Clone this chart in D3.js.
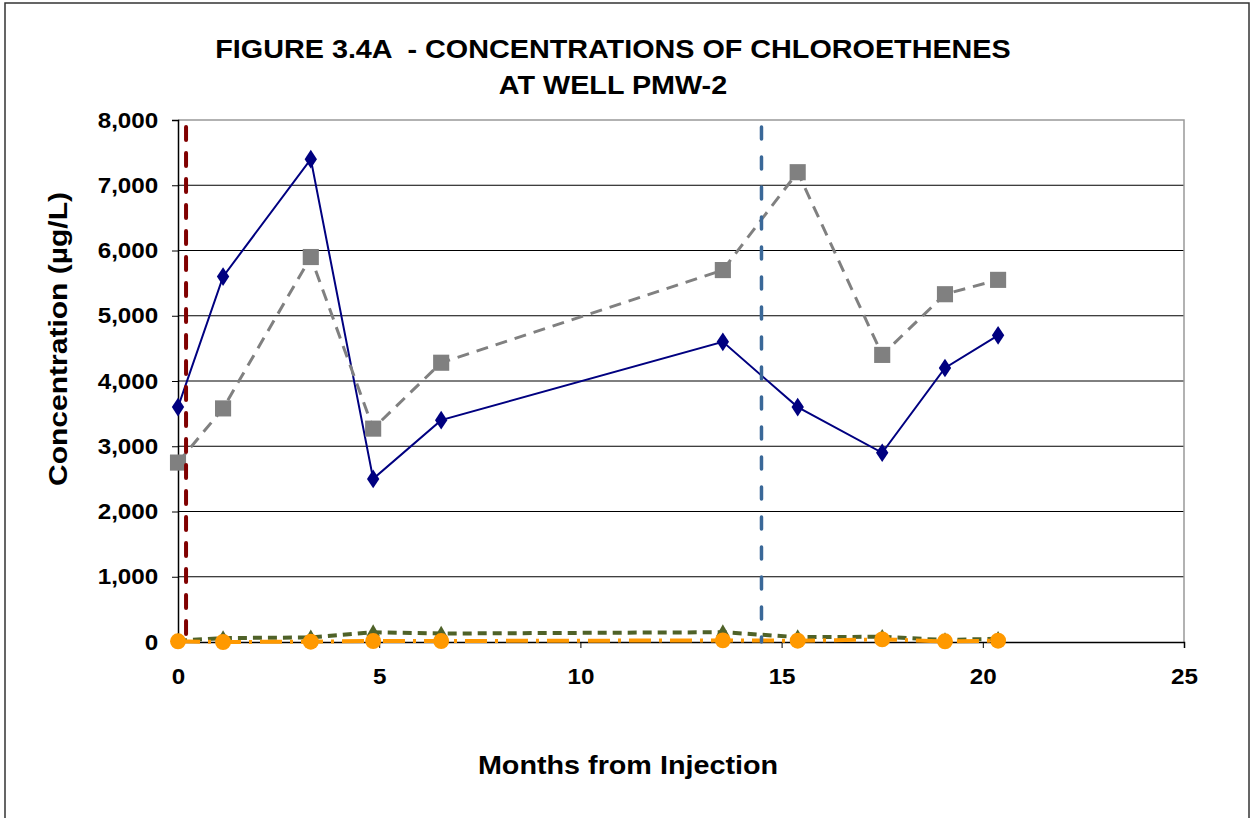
<!DOCTYPE html>
<html>
<head>
<meta charset="utf-8">
<script src="https://cdn.jsdelivr.net/npm/d3@7"></script>
<style>
  body { margin: 0; background: #fff; }
  text { font-family: "Liberation Sans", Arial, sans-serif; font-weight: bold; fill: #000; }
</style>
</head>
<body>
<svg id="chart" width="1252" height="818"></svg>
<script>
// sampling months
const months = [0, 1.12, 3.3, 4.85, 6.54, 13.54, 15.4, 17.5, 19.06, 20.38];

// series values (ug/L)
const pceValues = [3600, 5600, 7400, 2500, 3400, 4600, 3600, 2900, 4200, 4700];
const tceValues = [2750, 3580, 5900, 3270, 4280, 5700, 7200, 4400, 5330, 5550];
const dceValues = [20, 60, 70, 150, 130, 150, 75, 80, 30, 50];
const vcValues = [10, 0, 5, 15, 15, 25, 20, 40, 10, 20];

// injection events (months)
const injections = [0.2, 14.5];

const xTicks = [0, 5, 10, 15, 20, 25];
const yTicks = [0, 1000, 2000, 3000, 4000, 5000, 6000, 7000, 8000];

const svg = d3.select("#chart");

// outer frame
svg.append("rect")
  .attr("x", 5).attr("y", 3).attr("width", 1244).attr("height", 830)
  .attr("fill", "none").attr("stroke", "#333").attr("stroke-width", 1.5);

const x = d3.scaleLinear().domain([0, 25]).range([178, 1184]);
const y = d3.scaleLinear().domain([0, 8000]).range([642, 120]);

// gridlines
svg.append("g")
  .selectAll("line")
  .data(yTicks.filter(d => d > 0 && d < 8000))
  .enter().append("line")
  .attr("x1", x(0)).attr("x2", x(25))
  .attr("y1", d => y(d)).attr("y2", d => y(d))
  .attr("stroke", "#000").attr("stroke-width", 1);

// plot border (top/right gray)
svg.append("path")
  .attr("d", `M${x(0)},${y(8000)}H${x(25)}V${y(0)}`)
  .attr("fill", "none").attr("stroke", "#999").attr("stroke-width", 1.5);

// axes
const xAxis = svg.append("g")
  .attr("transform", `translate(0,${y(0)})`)
  .call(d3.axisBottom(x).tickValues(xTicks).tickSize(6).tickPadding(20).tickFormat(d3.format("d")));
xAxis.select(".domain").attr("stroke", "#000").attr("stroke-width", 1.5);
xAxis.selectAll(".tick line").attr("stroke", "#000");
xAxis.selectAll("text").style("font-size", "22px")
  .attr("transform", "scale(1.1,1)");

const yAxis = svg.append("g")
  .attr("transform", `translate(${x(0)},0)`)
  .call(d3.axisLeft(y).tickValues(yTicks).tickSize(6).tickPadding(12).tickFormat(d3.format(",")));
yAxis.select(".domain").attr("stroke", "#000").attr("stroke-width", 1.5);
yAxis.selectAll(".tick line").attr("stroke", "#000");
yAxis.selectAll("text").style("font-size", "22px")
  .attr("transform", "scale(1.1,1)");

// series
const series = [
  { values: pceValues, color: "#000080", width: 2, dash: null, marker: d3.symbolDiamond, size: 100 },
  { values: tceValues, color: "#808080", width: 3, dash: "12,8", marker: d3.symbolSquare, size: 260 },
  { values: dceValues, color: "#4f6228", width: 4, dash: "9,6", marker: d3.symbolTriangle, size: 80 },
  { values: vcValues, color: "#ff9900", width: 4, dash: "22,8,3,8", marker: d3.symbolCircle, size: 200 }
];

const line = d3.line().x(d => x(d[0])).y(d => y(d[1]));

series.forEach(s => {
  const pts = months.map((m, i) => [m, s.values[i]]);
  svg.append("path")
    .datum(pts)
    .attr("d", line)
    .attr("fill", "none")
    .attr("stroke", s.color)
    .attr("stroke-width", s.width)
    .attr("stroke-dasharray", s.dash);
  svg.append("g")
    .selectAll("path")
    .data(pts)
    .enter().append("path")
    .attr("d", d3.symbol().type(s.marker).size(s.size))
    .attr("transform", d => `translate(${x(d[0])},${y(d[1])})` + (s.marker === d3.symbolDiamond ? " scale(1.15,1)" : ""))
    .attr("fill", s.color);
});

// injection lines
const injStyles = [
  { color: "#800000", width: 4, dash: "13,13" },
  { color: "#3a6898", width: 3.5, dash: "12,18" }
];
svg.append("g")
  .selectAll("line")
  .data(injections)
  .enter().append("line")
  .attr("x1", d => x(d)).attr("x2", d => x(d))
  .attr("y1", y(8000) + 7).attr("y2", y(0))
  .attr("stroke", (d, i) => injStyles[i].color)
  .attr("stroke-width", (d, i) => injStyles[i].width)
  .attr("stroke-linecap", "round")
  .attr("stroke-dasharray", (d, i) => injStyles[i].dash);

// titles (horizontally stretched like the source)
const sx = 1.15;
function stretchedText(cx, cy, str, size) {
  return svg.append("text")
    .attr("transform", `translate(${cx},${cy}) scale(${sx},1)`)
    .attr("text-anchor", "middle")
    .style("font-size", size + "px")
    .attr("xml:space", "preserve")
    .text(str);
}
stretchedText(613, 58, "FIGURE 3.4A  - CONCENTRATIONS OF CHLOROETHENES", 25);
stretchedText(613, 94, "AT WELL PMW-2", 25);
stretchedText(628, 774, "Months from Injection", 25);

svg.append("text")
  .attr("transform", "translate(67,339) rotate(-90) scale(1.2,1)")
  .attr("text-anchor", "middle")
  .style("font-size", "25px")
  .text("Concentration (µg/L)");
</script>
</body>
</html>
